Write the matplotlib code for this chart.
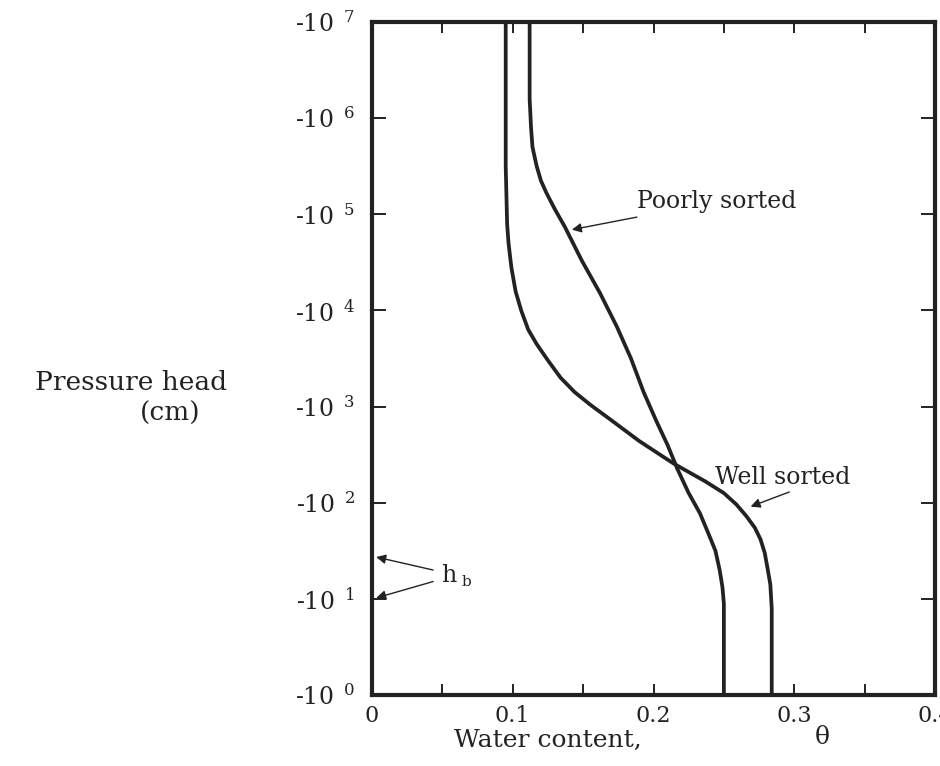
import numpy as np
import matplotlib
matplotlib.use("Agg")
import matplotlib.pyplot as plt
from matplotlib.ticker import FixedLocator, FixedFormatter, NullLocator

# Retention curves: log10 of suction |h| (cm) and volumetric water content
well_log_suction = [7.0, 5.5, 4.9, 4.7, 4.45, 4.2, 4.0, 3.8, 3.65, 3.48, 3.3,
                    3.15, 3.02, 2.88, 2.64, 2.41, 2.22, 2.10, 1.98, 1.86, 1.74,
                    1.62, 1.48, 1.32, 1.15, 0.9, 0.0]
well_theta = [0.095, 0.095, 0.096, 0.097, 0.099, 0.102, 0.106, 0.111, 0.117, 0.125,
              0.134, 0.144, 0.155, 0.168, 0.190, 0.214, 0.237, 0.250, 0.259, 0.266,
              0.272, 0.276, 0.279, 0.281, 0.283, 0.284, 0.284]

poor_log_suction = [7.0, 6.2, 5.9, 5.7, 5.5, 5.35, 5.22, 5.05, 4.87, 4.52, 4.18,
                    3.83, 3.5, 3.15, 2.85, 2.6, 2.35, 2.1, 1.89, 1.68, 1.50,
                    1.30, 1.12, 0.95, 0.0]
poor_theta = [0.112, 0.112, 0.113, 0.114, 0.117, 0.120, 0.124, 0.130, 0.137, 0.149,
              0.162, 0.174, 0.184, 0.193, 0.202, 0.210, 0.217, 0.225, 0.233, 0.239,
              0.244, 0.247, 0.249, 0.250, 0.250]

pressure_head_well = -np.power(10.0, well_log_suction)
pressure_head_poor = -np.power(10.0, poor_log_suction)

decades = [0, 1, 2, 3, 4, 5, 6, 7]
y_tick_labels = [r"-10$^{\ \ %d}$" % k for k in decades]
x_major = [0.0, 0.1, 0.2, 0.3, 0.4]
x_tick_labels = ["0", "0.1", "0.2", "0.3", "0.4"]
x_minor = [0.05, 0.15, 0.25, 0.35]

ink = "#222222"
plt.rcParams["font.family"] = ["DejaVu Serif", "DejaVu Sans"]
plt.rcParams["mathtext.fontset"] = "dejavuserif"
plt.rcParams["text.color"] = ink

fig = plt.figure(figsize=(9.4, 7.66), dpi=100)
ax = fig.add_axes([372 / 940, 1 - 695 / 766, (935 - 372) / 940, (695 - 22) / 766])

ax.plot(well_theta, -pressure_head_well, color=ink, lw=2.7,
        solid_capstyle="butt", solid_joinstyle="round")
ax.plot(poor_theta, -pressure_head_poor, color=ink, lw=2.7,
        solid_capstyle="butt", solid_joinstyle="round")

ax.set_yscale("log")
ax.set_xlim(0, 0.4)
ax.set_ylim(1, 1e7)

ax.yaxis.set_major_locator(FixedLocator([10.0 ** k for k in decades]))
ax.yaxis.set_major_formatter(FixedFormatter(y_tick_labels))
ax.yaxis.set_minor_locator(NullLocator())
ax.xaxis.set_major_locator(FixedLocator(x_major))
ax.xaxis.set_major_formatter(FixedFormatter(x_tick_labels))
ax.xaxis.set_minor_locator(FixedLocator(x_minor))

for s in ax.spines.values():
    s.set_linewidth(3.0)
    s.set_color(ink)

ax.tick_params(axis="y", which="major", direction="in", length=10, width=1.4,
               left=True, right=True, pad=12, labelsize=17, colors=ink)
ax.tick_params(axis="x", which="both", direction="in", length=8, width=1.4,
               top=True, bottom=True, pad=7, labelsize=16, colors=ink)

# curve labels
ax.annotate("Poorly sorted", xy=(0.142, 10 ** 4.84), xytext=(0.188, 10 ** 5.13),
            fontsize=17, va="center", ha="left", color=ink,
            arrowprops=dict(arrowstyle="-|>", color=ink, lw=1.0,
                            mutation_scale=14, shrinkA=4, shrinkB=0))
ax.annotate("Well sorted", xy=(0.269, 10 ** 1.96), xytext=(0.244, 10 ** 2.26),
            fontsize=17, va="center", ha="left", color=ink,
            arrowprops=dict(arrowstyle="-|>", color=ink, lw=1.0,
                            mutation_scale=14, shrinkA=0, shrinkB=0,
                            relpos=(0.6, 0.0)))

# bubbling pressure markers
ax.annotate("", xy=(0.003, 10 ** 1.435), xytext=(0.0434, 10 ** 1.30),
            arrowprops=dict(arrowstyle="-|>", color=ink, lw=1.0,
                            mutation_scale=14, shrinkA=0, shrinkB=0))
ax.annotate("", xy=(0.003, 10 ** 1.01), xytext=(0.0434, 10 ** 1.18),
            arrowprops=dict(arrowstyle="-|>", color=ink, lw=1.0,
                            mutation_scale=14, shrinkA=0, shrinkB=0))
ax.text(0.049, 10 ** 1.24, "h", fontsize=17, va="center", ha="left", color=ink)
ax.text(0.0635, 10 ** 1.18, "b", fontsize=11, va="center", ha="left", color=ink)

# axis titles
fig.text(131 / 940, 1 - 383 / 766, "Pressure head", fontsize=19,
         ha="center", va="center", color=ink)
fig.text(170 / 940, 1 - 413 / 766, "(cm)", fontsize=19,
         ha="center", va="center", color=ink)
fig.text(548 / 940, 1 - 740 / 766, "Water content,", fontsize=18,
         ha="center", va="center", color=ink)
fig.text(822 / 940, 1 - 738 / 766, "\u03b8", fontsize=18,
         ha="center", va="center", color=ink)

fig.savefig("out.png", dpi=100)
